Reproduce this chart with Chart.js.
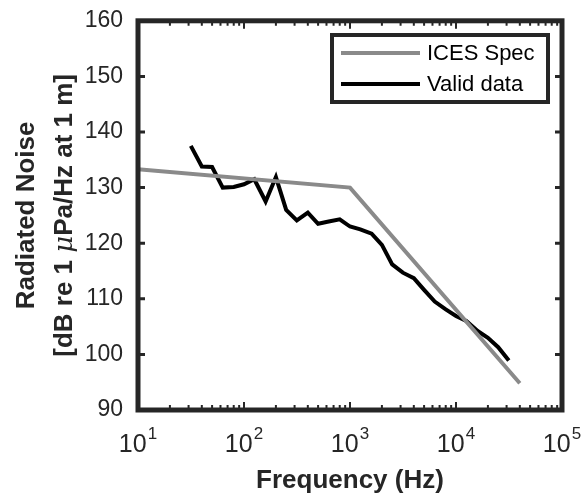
<!DOCTYPE html>
<html>
<head>
<meta charset="utf-8">
<script src="https://cdn.jsdelivr.net/npm/chart.js@4/dist/chart.umd.min.js"></script>
<style>
  body { margin: 0; background: #fff; }
</style>
</head>
<body>
<canvas id="chartNoise" width="585" height="500"></canvas>
<script>
// third-octave band centres (Hz) and measured level
const bandHz = [31.5, 40, 50, 63, 80, 100, 125, 160, 200, 250, 315, 400, 500, 630, 800,
  1000, 1250, 1600, 2000, 2500, 3150, 4000, 5000, 6300, 8000, 10000, 12500, 16000,
  20000, 25000, 31500];
const validLevel = [137.5, 133.8, 133.7, 130.0, 130.1, 130.6, 131.5, 127.5, 131.9, 126.0,
  124.1, 125.5, 123.5, 123.9, 124.3, 123.0, 122.5, 121.7, 119.7, 116.2, 114.7, 113.7,
  111.6, 109.5, 108.1, 106.9, 106.0, 104.2, 103.0, 101.3, 98.9];

// ICES 209 limit curve
const icesHz = [10, 1000, 40000];
const icesLevel = [133.3, 130, 94.8];

const yTicks = [90, 100, 110, 120, 130, 140, 150, 160];
const xDecades = [1, 2, 3, 4, 5];

const FONT = '"Liberation Sans", Arial, Helvetica, sans-serif';
const INK = '#262626';

const toPoints = (xs, ys) => xs.map((x, i) => ({ x: x, y: ys[i] }));

// frame, inward ticks, x labels with exponents, y title and legend
const matlabAxes = {
  id: 'matlabAxes',
  afterDraw(chart) {
    const c = chart.ctx;
    const a = chart.chartArea;
    const xs = chart.scales.x;
    const ys = chart.scales.y;
    c.save();

    // tick marks, pointing inwards
    c.strokeStyle = INK;
    c.lineWidth = 2;
    c.beginPath();
    xDecades.forEach(d => {
      for (let m = 1; m <= 9; m++) {
        const v = m * Math.pow(10, d);
        if (v > xs.max) break;
        const px = xs.getPixelForValue(v);
        const len = m === 1 ? 8 : 5;
        c.moveTo(px, a.bottom); c.lineTo(px, a.bottom - len);
        c.moveTo(px, a.top); c.lineTo(px, a.top + len);
      }
    });
    c.stroke();
    c.lineWidth = 3;
    c.beginPath();
    yTicks.forEach(v => {
      const py = ys.getPixelForValue(v);
      c.moveTo(a.left, py); c.lineTo(a.left + 7, py);
      c.moveTo(a.right, py); c.lineTo(a.right - 7, py);
    });
    c.stroke();

    // box
    c.lineWidth = 5;
    c.strokeRect(a.left, a.top, a.right - a.left, a.bottom - a.top);

    // x tick labels: 10 with superscript exponent
    c.fillStyle = INK;
    c.textBaseline = 'alphabetic';
    xDecades.forEach(d => {
      const px = xs.getPixelForValue(Math.pow(10, d));
      c.font = '25px ' + FONT;
      const wBase = c.measureText('10').width;
      c.font = '17px ' + FONT;
      const wExp = c.measureText(String(d)).width;
      const x0 = px - (wBase + wExp + 1) / 2;
      c.textAlign = 'left';
      c.font = '25px ' + FONT;
      c.fillText('10', x0, 452);
      c.font = '17px ' + FONT;
      c.fillText(String(d), x0 + wBase + 1, 439);
    });

    // x title
    c.textAlign = 'center';
    c.font = 'bold 26px ' + FONT;
    c.fillStyle = INK;
    c.fillText('Frequency (Hz)', (a.left + a.right) / 2, 488);

    // y title, two lines, italic mu
    c.save();
    c.translate(0, (a.top + a.bottom) / 2);
    c.rotate(-Math.PI / 2);
    c.textAlign = 'center';
    c.font = 'bold 26px ' + FONT;
    c.fillText('Radiated Noise', 0, 34);
    const parts = [
      { t: '[dB re 1 ', f: 'bold ' },
      { t: '\u03BC', f: 'italic ', serif: true },
      { t: 'Pa/Hz at 1 m]', f: 'bold ' }
    ];
    const fontOf = (p, size) => p.f + size + 'px ' +
      (p.serif ? '"DejaVu Serif", "Liberation Serif", serif' : FONT);
    let total = 0;
    parts.forEach(p => { c.font = fontOf(p, 26); total += c.measureText(p.t).width; });
    // second line is set to the same length as the axis title block
    const size2 = Math.min(26, 26 * 295 / total);
    let x = 0;
    parts.forEach(p => { c.font = fontOf(p, size2); p.w = c.measureText(p.t).width; x += p.w; });
    x = -x / 2;
    c.textAlign = 'left';
    parts.forEach(p => { c.font = fontOf(p, size2); c.fillText(p.t, x, 72); x += p.w; });
    c.restore();

    // legend
    const lx = 332, ly = 35, lw = 216, lh = 67;
    c.fillStyle = '#fff';
    c.fillRect(lx, ly, lw, lh);
    c.strokeStyle = INK;
    c.lineWidth = 4;
    c.strokeRect(lx, ly, lw, lh);
    c.font = '22px ' + FONT;
    c.textAlign = 'left';
    c.textBaseline = 'middle';
    chart.data.datasets.forEach((ds, i) => {
      const yy = 53 + i * 31;
      c.strokeStyle = ds.borderColor;
      c.lineWidth = ds.borderWidth;
      c.beginPath();
      c.moveTo(341, yy); c.lineTo(420, yy);
      c.stroke();
      c.fillStyle = '#000';
      c.fillText(ds.label, 427, yy + 1);
    });
    c.restore();
  }
};

new Chart(document.getElementById('chartNoise'), {
  type: 'line',
  data: {
    datasets: [
      {
        label: 'ICES Spec',
        data: toPoints(icesHz, icesLevel),
        borderColor: '#8a8a8a',
        borderWidth: 4,
        pointRadius: 0,
        tension: 0
      },
      {
        label: 'Valid data',
        data: toPoints(bandHz, validLevel),
        borderColor: '#000000',
        borderWidth: 4,
        pointRadius: 0,
        tension: 0
      }
    ]
  },
  options: {
    responsive: false,
    animation: false,
    layout: { padding: { top: 4, right: 23, left: 0, bottom: 0 } },
    plugins: {
      legend: { display: false },
      tooltip: { enabled: false }
    },
    scales: {
      x: {
        type: 'logarithmic',
        min: 10,
        max: 100000,
        grid: { display: false },
        border: { display: false },
        ticks: { display: false },
        afterFit: s => { s.height = 90; }
      },
      y: {
        min: 90,
        max: 160,
        afterBuildTicks: s => { s.ticks = yTicks.map(v => ({ value: v })); },
        grid: { display: false },
        border: { display: false },
        ticks: {
          font: { family: FONT, size: 23 },
          color: INK,
          padding: 7
        },
        afterFit: s => { s.width = 138; }
      }
    }
  },
  plugins: [matlabAxes]
});
</script>
</body>
</html>
